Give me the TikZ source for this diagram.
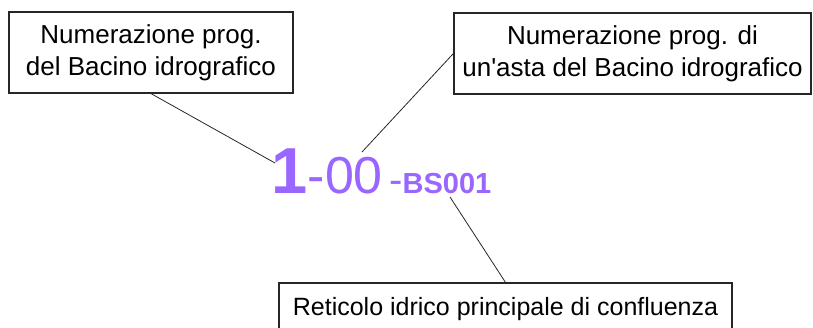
\documentclass[tikz,border=0pt]{standalone}
\usepackage{fontspec}
\setmainfont{Liberation Sans}
\definecolor{numpurple}{RGB}{153,102,255}
\tikzset{
  labelbox/.style={draw=black!85, line width=1.2pt, align=center, inner sep=0pt,
    font=\fontsize{26}{32}\selectfont},
  numtext/.style={text=numpurple, inner sep=0pt, anchor=base west},
  leader/.style={line width=0.8pt, draw=black!85}
}
\begin{document}
\begin{tikzpicture}[x=1pt,y=-1pt]
% Fixing picture size
\useasboundingbox (0,0) rectangle (813,327);
\clip (0,0) rectangle (813,327);

% Box of the basin number
\node [labelbox, minimum width=284pt, minimum height=81pt] (basin) at (151,52.5)
  {Numerazione prog.\\del Bacino idrografico};

% Box of the branch number
\node [labelbox, minimum width=357pt, minimum height=81pt] (asta) at (632.5,53.5)
  {Numerazione prog. di\\un\textquotesingle asta del Bacino idrografico};

% Box of the network code
\node [labelbox, font=\fontsize{25}{32}\selectfont, minimum width=453pt, minimum height=52pt] (reticolo) at (505.5,309)
  {Reticolo idrico principale di confluenza};

% Marking the code 1-00-BS001
\node [numtext, font=\fontsize{65}{65}\selectfont\bfseries] (numbasin) at (271,193) {1};
\node [numtext, font=\fontsize{52}{52}\selectfont] (numasta) at (numbasin.base east) {-00};
\node [numtext, font=\fontsize{29}{29}\selectfont\bfseries] (numret) at ([xshift=6pt]numasta.base east)
  {{\fontsize{40}{40}\selectfont\mdseries -}BS001};

% Pointer tips on the code
\coordinate (tipbasin) at (275,163);
\coordinate (tipasta) at (362,152);
\coordinate (tipret) at (450,197);

% Drawing leaders
\draw [leader] (basin.south) -- (tipbasin);
\draw [leader] (asta.west) -- (tipasta);
\draw [leader] (tipret) -- (reticolo.north);
\end{tikzpicture}
\end{document}
